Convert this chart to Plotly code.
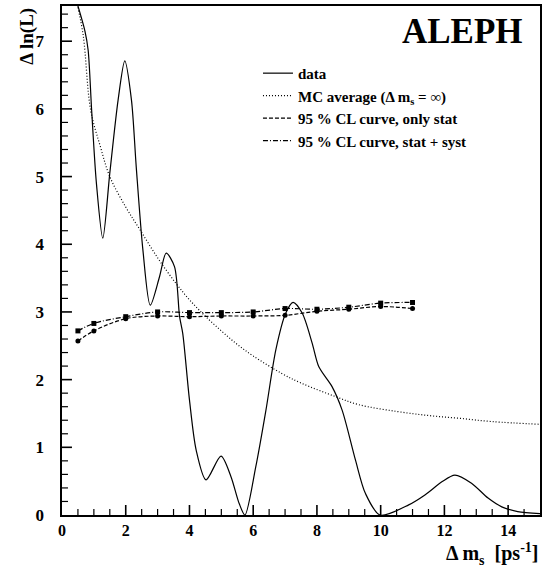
import plotly.graph_objects as go

# data curve (Delta ln L vs Delta m_s)
data_x = [0.45, 0.72, 0.82, 0.93, 1.08, 1.28, 1.5, 1.76, 1.97, 2.18, 2.33, 2.54, 2.77, 3.06, 3.27,
          3.53, 3.69, 3.79, 4.0, 4.21, 4.52, 4.99, 5.3, 5.56, 5.74, 6.08, 6.4, 6.71, 7.02, 7.25,
          7.54, 7.85, 8.06, 8.47, 8.79, 9.21, 9.52, 9.98, 10.88, 11.4, 11.92, 12.33, 12.85, 13.37,
          13.8, 14.3, 15.0]
data_y = [7.6, 7.15, 6.87, 5.98, 4.9, 4.09, 5.05, 6.13, 6.71, 6.13, 5.14, 3.91, 3.1, 3.52, 3.87,
          3.67, 2.93, 2.68, 1.7, 0.96, 0.52, 0.87, 0.57, 0.17, 0.0, 0.71, 1.55, 2.44, 2.98, 3.14,
          2.98, 2.54, 2.19, 1.9, 1.55, 0.81, 0.32, 0.0, 0.15, 0.3, 0.49, 0.59, 0.47, 0.25,
          0.12, 0.05, 0.02]

# MC average (Delta m_s = infinity)
mc_x = [0.5, 0.67, 0.9, 1.2, 1.5, 2.0, 2.44, 3.0, 3.58, 4.0, 4.47, 5.0, 5.5, 6.0, 6.9, 7.5, 8.58,
        9.31, 10.5, 11.5, 12.44, 13.5, 15.0]
mc_y = [7.5, 7.07, 5.98, 5.45, 5.0, 4.55, 4.22, 3.8, 3.42, 3.18, 2.95, 2.72, 2.52, 2.35, 2.09, 1.95,
        1.75, 1.63, 1.53, 1.47, 1.43, 1.38, 1.34]

# 95 % CL curves
cl_x = [0.5, 1, 2, 3, 4, 5, 6, 7, 8, 9, 10, 11]
cl_stat = [2.57, 2.72, 2.90, 2.94, 2.93, 2.94, 2.94, 2.95, 3.01, 3.04, 3.08, 3.05]
cl_syst = [2.72, 2.83, 2.93, 3.00, 2.99, 2.99, 3.00, 3.05, 3.04, 3.07, 3.13, 3.14]

x_ticks = [0, 2, 4, 6, 8, 10, 12, 14]
y_ticks = [0, 1, 2, 3, 4, 5, 6, 7]
X_RANGE = [0, 15]
Y_RANGE = [0, 7.52]
X_MINOR_STEP = 0.5
Y_MINOR_STEP = 0.2

FONT = "Liberation Serif"
W, H = 545, 568
ML, MR, MT, MB = 62, 3, 6, 53
PLOT_W = W - ML - MR
PLOT_H = H - MT - MB

fig = go.Figure()

# inside tick marks drawn as line segments (length given in pixels, converted to data units)
def px_to_dx(p):
    return p * (X_RANGE[1] - X_RANGE[0]) / PLOT_W

def px_to_dy(p):
    return p * (Y_RANGE[1] - Y_RANGE[0]) / PLOT_H

for major_pass in (False, True):
    tx, ty = [], []
    n_x = int(round((X_RANGE[1] - X_RANGE[0]) / X_MINOR_STEP))
    for i in range(1, n_x):
        v = X_RANGE[0] + i * X_MINOR_STEP
        major = any(abs(v - t) < 1e-9 for t in x_ticks)
        if major != major_pass:
            continue
        tx += [v, v, None]
        ty += [Y_RANGE[0], Y_RANGE[0] + px_to_dy(10 if major else 6), None]
    n_y = int((Y_RANGE[1] - Y_RANGE[0]) / Y_MINOR_STEP + 1e-9)
    for i in range(1, n_y + 1):
        v = Y_RANGE[0] + i * Y_MINOR_STEP
        major = any(abs(v - t) < 1e-9 for t in y_ticks)
        if major != major_pass:
            continue
        tx += [X_RANGE[0], X_RANGE[0] + px_to_dx(10 if major else 6), None]
        ty += [v, v, None]
    fig.add_trace(go.Scatter(x=tx, y=ty, mode="lines", showlegend=False, hoverinfo="skip",
                             line=dict(color="black", width=1.6 if major_pass else 1.2)))

fig.add_trace(go.Scatter(x=data_x, y=data_y, mode="lines",
                         line=dict(color="black", width=1.2, shape="spline", smoothing=0.8),
                         name="<b>data</b>"))
fig.add_trace(go.Scatter(x=mc_x, y=mc_y, mode="lines",
                         line=dict(color="black", width=1.2, dash="1px,2px", shape="spline"),
                         name="<b>MC average (Δ m<sub>s</sub> = ∞)</b>"))
fig.add_trace(go.Scatter(x=cl_x, y=cl_stat, mode="lines",
                         line=dict(color="black", width=1.2, dash="4px,2px", shape="spline"),
                         name="<b>95 % CL curve, only stat</b>"))
fig.add_trace(go.Scatter(x=cl_x, y=cl_syst, mode="lines",
                         line=dict(color="black", width=1.2, dash="5px,2px,1px,2px", shape="spline"),
                         name="<b>95 % CL curve, stat + syst</b>"))
fig.add_trace(go.Scatter(x=cl_x, y=cl_stat, mode="markers", showlegend=False,
                         marker=dict(symbol="circle", size=5, color="black")))
fig.add_trace(go.Scatter(x=cl_x, y=cl_syst, mode="markers", showlegend=False,
                         marker=dict(symbol="square", size=5, color="black")))

fig.update_layout(
    xaxis=dict(range=X_RANGE, tickvals=x_ticks, ticktext=["<b>%d</b>" % v for v in x_ticks],
               showline=True, linecolor="black", linewidth=1.5, mirror=True,
               ticks="", showgrid=False, zeroline=False,
               tickfont=dict(family=FONT, size=16, color="black")),
    yaxis=dict(range=Y_RANGE, tickvals=y_ticks, ticktext=["<b>%d</b>   " % v for v in y_ticks],
               showline=True, linecolor="black", linewidth=1.5, mirror=True,
               ticks="", showgrid=False, zeroline=False,
               tickfont=dict(family=FONT, size=17, color="black")),
)

fig.add_annotation(xref="paper", yref="paper", x=0.969, y=0.949, xanchor="right", yanchor="middle",
                   text="<b>ALEPH</b>", showarrow=False, font=dict(family=FONT, size=35, color="black"))
fig.add_annotation(xref="paper", yref="paper", x=-0.075, y=1.0, xanchor="center", yanchor="top",
                   text="<b>Δ ln(L)</b>", textangle=-90, showarrow=False,
                   font=dict(family=FONT, size=19, color="black"))
fig.add_annotation(xref="paper", yref="paper", x=1.0, y=-0.076, xanchor="right", yanchor="middle",
                   text="<b>Δ m<sub>s</sub>  [ps<sup>-1</sup>]</b>", showarrow=False,
                   font=dict(family=FONT, size=20, color="black"))

fig.update_layout(width=W, height=H, margin=dict(l=ML, r=MR, t=MT, b=MB),
                  paper_bgcolor="white", plot_bgcolor="white",
                  showlegend=True,
                  legend=dict(x=0.41, y=0.9, xanchor="left", yanchor="top", bgcolor="rgba(0,0,0,0)",
                              font=dict(family=FONT, size=15, color="black"), tracegroupgap=0,
                              itemwidth=30))
fig.write_html("out.html")
